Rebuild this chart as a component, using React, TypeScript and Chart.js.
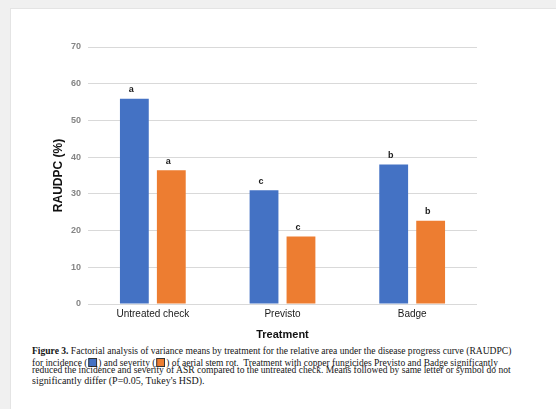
import React, { useEffect, useLayoutEffect, useRef } from "react";
import { Chart, registerables } from "chart.js";

Chart.register(...registerables);

const categories = ["Untreated check", "Previsto", "Badge"];
const incidence = [55.9, 31.0, 38.0];
const severity = [36.4, 18.4, 22.7];
const incidenceLetters = ["a", "c", "b"];
const severityLetters = ["a", "c", "b"];
const yTicks = [0, 10, 20, 30, 40, 50, 60, 70];

const letterPlugin = {
  id: "letters",
  afterDatasetsDraw(chart: any) {
    const ctx = chart.ctx;
    const letterSets = [incidenceLetters, severityLetters];
    ctx.save();
    ctx.font = "bold 9px 'Liberation Sans', Arial, sans-serif";
    ctx.fillStyle = "#1a1a1a";
    ctx.textAlign = "center";
    ctx.textBaseline = "middle";
    chart.data.datasets.forEach((_: any, di: number) => {
      const meta = chart.getDatasetMeta(di);
      meta.data.forEach((el: any, i: number) => {
        ctx.fillText(letterSets[di][i], el.x - 3, el.y - 9);
      });
    });
    ctx.restore();
  },
};

export default function App() {
  const ref = useRef<HTMLCanvasElement>(null);
  const l1 = useRef<HTMLDivElement>(null);
  const l2 = useRef<HTMLDivElement>(null);
  const l3 = useRef<HTMLDivElement>(null);
  const l4 = useRef<HTMLDivElement>(null);

  useLayoutEffect(() => {
    const fits: [React.RefObject<HTMLDivElement | null>, number][] = [
      [l1, 479],
      [l2, 466],
      [l3, 479],
      [l4, 173],
    ];
    fits.forEach(([r, w]) => {
      const el = r.current;
      if (!el) return;
      const nat = el.scrollWidth;
      if (nat > 0) {
        el.style.transformOrigin = "left top";
        el.style.transform = `scaleX(${w / nat})`;
      }
    });
  }, []);

  useEffect(() => {
    document.body.style.margin = "0";
    const chart = new Chart(ref.current!, {
      type: "bar",
      data: {
        labels: categories,
        datasets: [
          {
            label: "Incidence",
            data: incidence,
            backgroundColor: "#4472C4",
            categoryPercentage: 0.57,
            barPercentage: 0.78,
          },
          {
            label: "Severity",
            data: severity,
            backgroundColor: "#ED7D31",
            categoryPercentage: 0.57,
            barPercentage: 0.78,
          },
        ],
      },
      options: {
        responsive: false,
        animation: false,
        layout: { padding: { left: 0, top: 47, right: 79, bottom: 0 } },
        plugins: {
          legend: { display: false },
          tooltip: { enabled: false },
        },
        scales: {
          x: {
            grid: { display: false, drawTicks: false },
            border: { display: false },
            ticks: {
              padding: 4,
              color: "#1a1a1a",
              font: { family: "'Liberation Sans', Arial, sans-serif", size: 10 },
              maxRotation: 0,
            },
            title: {
              display: true,
              text: "Treatment",
              color: "#111",
              font: { family: "'Liberation Sans', Arial, sans-serif", size: 11, weight: "bold" },
              padding: { top: 0, bottom: 3 },
            },
            afterFit: (scale: any) => {
              scale.height = 41;
            },
          },
          y: {
            min: 0,
            max: 70,
            afterBuildTicks: (scale: any) => {
              scale.ticks = yTicks.map((v) => ({ value: v }));
            },
            grid: { color: "#d9d9d9", lineWidth: 1, drawTicks: false },
            border: { display: false },
            ticks: {
              padding: 7,
              color: "#858585",
              font: { family: "'Liberation Sans', Arial, sans-serif", size: 9, weight: "bold" },
            },
            title: {
              display: true,
              text: "RAUDPC (%)",
              color: "#111",
              font: { family: "'Liberation Sans', Arial, sans-serif", size: 12, weight: "bold" },
              padding: { top: 51, bottom: 0 },
            },
            afterFit: (scale: any) => {
              scale.width = 88;
            },
          },
        },
      },
      plugins: [letterPlugin],
    } as any);
    return () => chart.destroy();
  }, []);

  const serif = "'Liberation Serif', 'Times New Roman', serif";
  const lineStyle: React.CSSProperties = {
    position: "absolute",
    left: 32,
    fontFamily: serif,
    fontSize: 9.8,
    lineHeight: "11px",
    color: "#151515",
    whiteSpace: "nowrap",
  };
  const sq = (c: string) => (
    <span
      style={{
        display: "inline-block",
        width: 7,
        height: 7,
        background: c,
        border: "1px solid #333",
        verticalAlign: "-1px",
        margin: "0 1px",
      }}
    />
  );

  return (
    <div
      style={{
        position: "relative",
        width: 556,
        height: 409,
        background: "#f0f0f0",
        overflow: "hidden",
      }}
    >
      <div
        style={{
          position: "absolute",
          left: 10,
          top: 8,
          right: 0,
          bottom: 0,
          background: "#ffffff",
          borderLeft: "1px solid #e4e4e4",
          borderTop: "1px solid #e4e4e4",
        }}
      />
      <canvas
        ref={ref}
        width={556}
        height={345}
        style={{ position: "absolute", left: 0, top: 0, width: 556, height: 345 }}
      />
      <div ref={l1} style={{ ...lineStyle, top: 345 }}>
        <b>Figure 3.</b> Factorial analysis of variance means by treatment for the relative area under the disease progress curve (RAUDPC)
      </div>
      <div ref={l2} style={{ ...lineStyle, top: 357 }}>
        for incidence ({sq("#4472C4")}) and severity ({sq("#ED7D31")}) of aerial stem rot.&nbsp; Treatment with copper fungicides Previsto and Badge significantly
      </div>
      <div ref={l3} style={{ ...lineStyle, top: 364 }}>
        reduced the incidence and severity of ASR compared to the untreated check. Means followed by same letter or symbol do not
      </div>
      <div ref={l4} style={{ ...lineStyle, top: 375 }}>
        significantly differ (P=0.05, Tukey's HSD).
      </div>
    </div>
  );
}
